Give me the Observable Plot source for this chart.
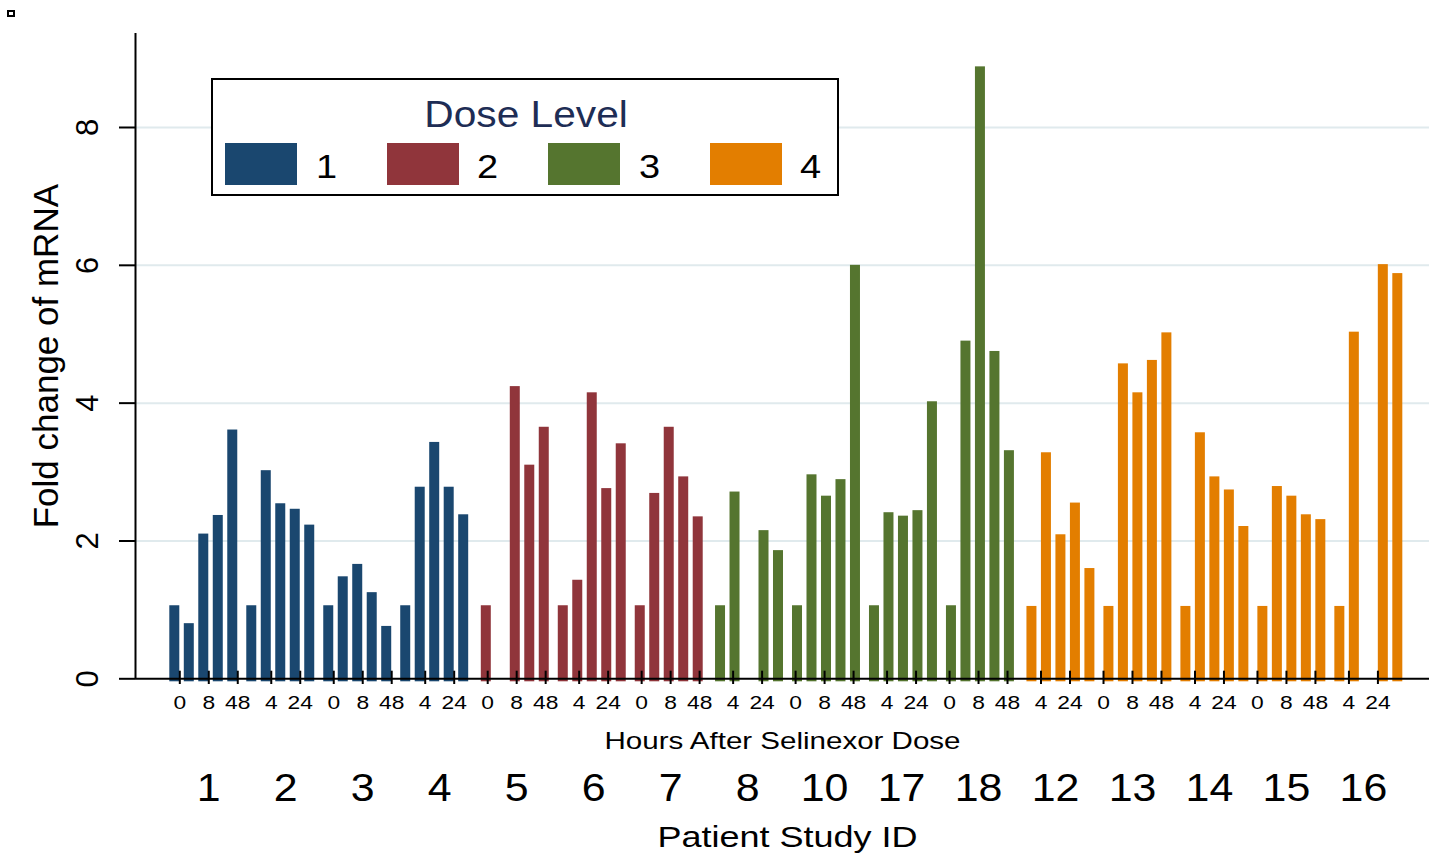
<!DOCTYPE html>
<html>
<head>
<meta charset="utf-8">
<script src="https://cdn.jsdelivr.net/npm/d3@7"></script>
<script src="https://cdn.jsdelivr.net/npm/@observablehq/plot@0.6"></script>
<style>
  body { margin: 0; background: #fff; }
  #wrap { position: relative; width: 1429px; height: 855px; font-family: "Liberation Sans", Arial, sans-serif; }
  #corner { position: absolute; left: 7px; top: 10px; width: 8px; height: 7px; border: 2px solid #000; box-sizing: border-box; }
  #lg { position: absolute; left: 211px; top: 78px; width: 628px; height: 118px; border: 2px solid #000; box-sizing: border-box; background: #fff; }
  #lgt { position: absolute; left: 0; right: 0; top: 16.5px; text-align: center; font-size: 36px; line-height: 36px; color: #1e2d55; padding-left: 3px; }
  #lgt span { display: inline-block; transform: scaleX(1.13); }
  #lgs { position: absolute; left: 12px; top: 62.7px; width: 640px; }
  #lgs > div { font-family: "Liberation Sans", Arial, sans-serif !important; font-size: 33px !important; margin: 0 !important; min-height: 0 !important; color: #000 !important; flex-wrap: nowrap !important; }
  #lgs > div > span { margin: 0 52.65px 0 0 !important; }
  #lgs > div > span:last-of-type { margin-right: 0 !important; }
  #lgs > div > span > svg { margin: 0 18.5px 0 0 !important; }
  #lgs .lab { display: inline-block; position: relative; top: 3.5px; transform: scaleX(1.15); transform-origin: left center; }
</style>
</head>
<body>
<div id="wrap">
  <div id="corner"></div>
</div>
<script>
// ---------- data ----------
const patients  = ["1","2","3","4","5","6","7","8","10","17","18","12","13","14","15","16"];
const doseLevel = [1, 1, 1, 1, 2, 2, 2, 3, 3, 3, 3, 4, 4, 4, 4, 4];
const hours     = [0, 4, 8, 24, 48];
// fold change per patient (rows) and hour (columns); null = no bar
const foldChange = [
  [1.06, 0.80, 2.10, 2.37, 3.61],
  [1.06, 3.02, 2.54, 2.46, 2.23],
  [1.06, 1.48, 1.66, 1.25, 0.76],
  [1.06, 2.78, 3.43, 2.78, 2.38],
  [1.06, null, 4.24, 3.10, 3.65],
  [1.06, 1.43, 4.15, 2.76, 3.41],
  [1.06, 2.69, 3.65, 2.93, 2.35],
  [1.06, 2.71, null, 2.15, 1.86],
  [1.06, 2.96, 2.65, 2.89, 6.00],
  [1.06, 2.41, 2.36, 2.44, 4.02],
  [1.06, 4.90, 8.88, 4.75, 3.31],
  [1.05, 3.28, 2.09, 2.55, 1.60],
  [1.05, 4.57, 4.15, 4.62, 5.02],
  [1.05, 3.57, 2.93, 2.74, 2.21],
  [1.05, 2.79, 2.65, 2.38, 2.31],
  [1.05, 5.03, null, 6.01, 5.88]
];
const doseLabels = ["1", "2", "3", "4"];
const doseColors = ["#1a476f", "#90353b", "#55752f", "#e37e00"];
const yTicks = [0, 2, 4, 6, 8];

// ---------- layout (slot units of the x scale) ----------
const patientStep = 5.312;                       // slots per patient incl. gap
const doseShift = [-0.345, -0.097, 0.131, 0.373]; // bar offset per dose group
const barHalf = 0.345;                           // half bar width
const xLo = -3.057, xHi = 86.24;
const yTop = 9.364;

const rows = [];
const tickRows = [];
patients.forEach((p, pi) => {
  hours.forEach((h, hi) => {
    const v = foldChange[pi][hi];
    const slot = pi * patientStep + hi;
    if (v != null) rows.push({patient: p, dose: String(doseLevel[pi]), hour: h, value: v, pos: slot + doseShift[doseLevel[pi] - 1]});
    if ((pi * 5 + hi) % 2 === 0) tickRows.push({hour: h, pos: slot});
  });
});
const idRows = patients.map((p, pi) => ({patient: p, pos: pi * patientStep + 2}));

const chart = Plot.plot({
  width: 1429,
  height: 855,
  marginTop: 33,
  marginBottom: 176.7,
  marginLeft: 135,
  marginRight: 0,
  style: {fontFamily: "'Liberation Sans', Arial, sans-serif", background: "#fff", color: "#000"},
  x: {domain: [xLo, xHi], axis: null},
  y: {domain: [0, yTop], axis: null},
  color: {domain: doseLabels, range: doseColors},
  marks: [
    Plot.ruleY(yTicks.filter(d => d > 0), {stroke: "#e0eaed", strokeWidth: 2}),
    Plot.rectY(rows, {x1: d => d.pos - barHalf, x2: d => d.pos + barHalf, y1: 0, y2: "value", fill: "dose", insetBottom: -3}),
    Plot.ruleY([0], {stroke: "#000", strokeWidth: 2}),
    Plot.ruleX([xLo], {stroke: "#000", strokeWidth: 2}),
    Plot.axisY(yTicks, {tickSize: 16, strokeWidth: 2, tickFormat: () => "", label: null}),
    Plot.ruleX(tickRows, {x: "pos", y1: 0, y2: 0, insetTop: -7.6, insetBottom: -5.7, stroke: "#000", strokeWidth: 2}),
    Plot.text(tickRows, {x: "pos", text: d => String(d.hour), frameAnchor: "bottom", dy: 29.8, lineAnchor: "bottom", fontSize: 19}),
    Plot.text(["Hours After Selinexor Dose"], {text: d => d, frameAnchor: "bottom", dy: 70.2, lineAnchor: "bottom", fontSize: 24}),
    Plot.text(idRows, {x: "pos", text: "patient", frameAnchor: "bottom", dy: 121.7, lineAnchor: "bottom", fontSize: 39}),
    Plot.text(["Patient Study ID"], {text: d => d, frameAnchor: "bottom", dx: 5, dy: 168.4, lineAnchor: "bottom", fontSize: 30}),
    Plot.text(yTicks, {y: d => d, text: d => String(d), frameAnchor: "left", dx: -38, rotate: -90, textAnchor: "middle", lineAnchor: "bottom", fontSize: 31}),
    Plot.text(["Fold change of mRNA"], {text: d => d, frameAnchor: "left", dx: -88.3, rotate: -90, textAnchor: "middle", lineAnchor: "middle", fontSize: 35})
  ]
});

const wrap = document.getElementById("wrap");
wrap.insertBefore(chart, wrap.firstChild);

// widen horizontal texts (reference glyphs are horizontally stretched)
const stretch = {"19": 1.2, "24": 1.23, "39": 1.1, "30": 1.2};
chart.querySelectorAll("g[font-size]").forEach(g => {
  const k = stretch[g.getAttribute("font-size")];
  if (!k) return;
  g.querySelectorAll("text").forEach(t => {
    const L = t.getComputedTextLength();
    t.setAttribute("textLength", L * k);
    t.setAttribute("lengthAdjust", "spacingAndGlyphs");
  });
});

// legend box
const lg = document.createElement("div");
lg.id = "lg";
const lgt = document.createElement("div");
lgt.id = "lgt";
lgt.innerHTML = "<span>Dose Level</span>";
lg.appendChild(lgt);
const lgs = document.createElement("div");
lgs.id = "lgs";
const legend = chart.legend("color", {swatchWidth: 72, swatchHeight: 42});
lgs.appendChild(legend);
lg.appendChild(lgs);
wrap.appendChild(lg);
legend.querySelectorAll(":scope > span").forEach(sp => {
  Array.from(sp.childNodes).forEach(n => {
    if (n.nodeType === 3 && n.textContent.trim()) {
      const s = document.createElement("span");
      s.className = "lab";
      s.textContent = n.textContent;
      sp.replaceChild(s, n);
    } else if (n.nodeType === 1 && n.tagName.toLowerCase() === "span") {
      n.classList.add("lab");
    }
  });
});
</script>
</body>
</html>
